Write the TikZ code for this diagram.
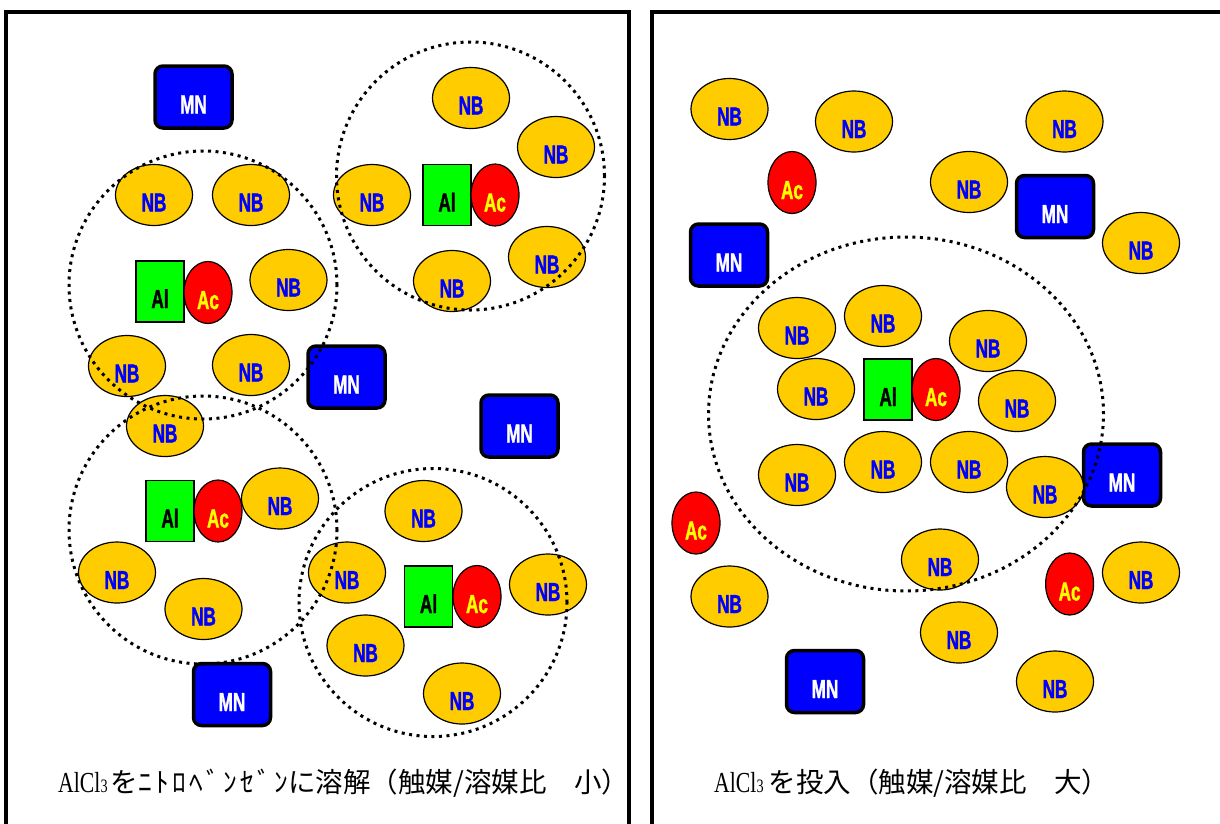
\documentclass[tikz,border=0pt]{standalone}
\usepackage{fontspec}
\usetikzlibrary{shapes.geometric}
\newfontfamily\lab{Liberation Sans}[FakeStretch=0.66,FakeBold=1.2,UprightFont=* Bold]
\newfontfamily\jp{Noto Sans CJK JP}
\newfontfamily\ser{Liberation Serif}[FakeStretch=0.75]
\definecolor{nbfill}{HTML}{FFCC00}
\definecolor{mnblue}{HTML}{0000FF}
\definecolor{acred}{HTML}{FF0000}
\definecolor{acyellow}{HTML}{FFFF00}
\definecolor{algreen}{HTML}{00FF00}
\newcommand{\latin}{\ser\fontsize{29}{32}\selectfont AlCl{\fontsize{19}{19}\selectfont 3}}
\newcommand{\kana}[1]{{\addfontfeatures{LetterSpace=12}#1}}
\tikzset{
  mol/.style={draw=black, line width=1.2pt, inner sep=0pt, text height=33pt, text depth=0pt,
    font=\lab\fontsize{26}{26}\selectfont},
  nb/.style={mol, ellipse, fill=nbfill, text=mnblue, minimum width=77pt, minimum height=61pt},
  ac/.style={mol, ellipse, fill=acred, text=acyellow, minimum width=48pt, minimum height=62pt},
  al/.style={mol, rectangle, fill=algreen, text=black, minimum width=48pt, minimum height=61pt, line width=1.6pt},
  mn/.style={mol, rectangle, rounded corners=8pt, fill=mnblue, text=white, minimum width=77pt, minimum height=62pt, line width=3.5pt},
  frame/.style={draw=black, line width=4pt},
  dotc/.style={draw=black, line width=3pt, dash pattern=on 3pt off 4.5pt},
  captext/.style={anchor=base west, inner sep=0pt, font=\fontsize{27.5}{30}\selectfont}
}
\begin{document}
\begin{tikzpicture}[x=1pt,y=-1pt]
\useasboundingbox (0,0) rectangle (1220,823);
\clip (0,0) rectangle (1220,823);
\fill[white] (0,0) rectangle (1220,823);
% frames
\draw[frame] (6,11.5) rectangle (629,860);
\draw[frame] (652,11.5) rectangle (1260,860);
% ---------------- left panel ----------------
\foreach \x/\y [count=\i] in {193.5/97, 346.5/377, 519.5/426, 232/694.5}
  \node[mn] (mnL\i) at (\x,\y) {MN};
\foreach \x/\y [count=\i] in {160/291.5, 447/195, 170/511, 428.5/596.5}
  \node[al] (alL\i) at (\x,\y) {Al};
\foreach \x/\y [count=\i] in {208/292.5, 495/195, 218/511, 477/596.5}
  \node[ac] (acL\i) at (\x,\y) {Ac};
\foreach \x/\y [count=\i] in {154/195, 251/195, 288.5/280, 127/366, 251/365, 165/426,
    471/98, 556/147, 372/195, 547/257, 452/281,
    280/498.5, 117/572.5, 203.5/609,
    423.5/511, 347/572.5, 548/584.5, 365.5/645.5, 462/693.5}
  \node[nb] (nbL\i) at (\x,\y) {NB};
\draw[dotc] (203,285) circle[radius=134pt];
\draw[dotc] (470.5,176) circle[radius=134pt];
\draw[dotc] (203,530) circle[radius=134pt];
\draw[dotc] (433,602.5) circle[radius=134pt];
\node[captext] (capL) at (58,792) {{\latin}\hspace{3pt}{\jp を\kana{ﾆﾄﾛﾍﾞﾝｾﾞﾝ}に溶解（触媒/溶媒比　小）}};
% ---------------- right panel ----------------
\foreach \x/\y [count=\i] in {1055/206.5, 729/255, 1122/475, 825/681.5}
  \node[mn] (mnR\i) at (\x,\y) {MN};
\node[al] (alR1) at (888,389.5) {Al};
\foreach \x/\y [count=\i] in {792/182.5, 696/523, 1069.6/584, 936/389.5}
  \node[ac] (acR\i) at (\x,\y) {Ac};
\foreach \x/\y [count=\i] in {729.5/109, 854/121.5, 1064.5/121.5, 969/182, 1141/243,
    797/328, 883/316, 988/341, 816/389, 1017/401, 797/475, 883/462, 969/462, 1045/487,
    940/559.5, 1141/572.5, 729.5/596.5, 959/632.5, 1055/681.5}
  \node[nb] (nbR\i) at (\x,\y) {NB};
\draw[dotc] (906,414) ellipse[x radius=197.5pt, y radius=177pt];
\node[captext] (capR) at (714,792) {{\latin}\hspace{5pt}{\jp を投入（触媒/溶媒比　大）}};
\end{tikzpicture}
\end{document}
